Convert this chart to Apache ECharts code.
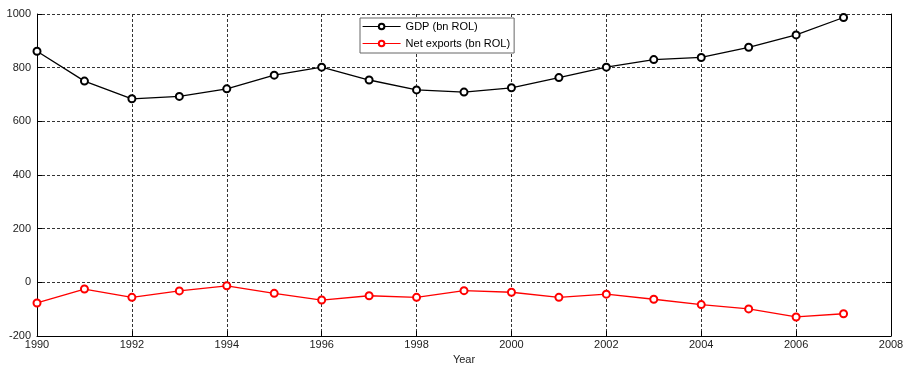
<!DOCTYPE html>
<html>
<head>
<meta charset="utf-8">
<script src="https://cdn.jsdelivr.net/npm/echarts@6/dist/echarts.min.js"></script>
<style>
  html, body { margin: 0; padding: 0; background: #fff; }
  #chart { width: 908px; height: 365px; }
</style>
</head>
<body>
<div id="chart"></div>
<script>
// Annual series, 1990–2007
const years = [1990, 1991, 1992, 1993, 1994, 1995, 1996, 1997, 1998, 1999,
               2000, 2001, 2002, 2003, 2004, 2005, 2006, 2007];
const gdp = [861, 750, 684, 693, 721, 772, 802, 754, 717, 709,
             725, 763, 802, 830, 838, 876, 922, 987];
const netExports = [-77, -25, -56, -32, -13, -41, -66, -50, -56, -31,
                    -37, -56, -44, -63, -83, -99, -129, -117];
const seriesNames = ['GDP (bn ROL)', 'Net exports (bn ROL)'];
const xAxisTitle = 'Year';

const font = 'Arial, "Liberation Sans", Helvetica, sans-serif';
const gridDash = { color: '#333', width: 1, type: [3, 2] };

const chart = echarts.init(document.getElementById('chart'), null, { renderer: 'canvas' });

const pairs = vals => years.map((y, i) => [y, vals[i]]);

chart.setOption({
  animation: false,
  backgroundColor: '#fff',
  grid: { left: 37, right: 17, top: 14, bottom: 29, containLabel: false, outerBoundsMode: 'none' },
  legend: {
    left: 360, top: 18,
    orient: 'vertical',
    backgroundColor: '#fff',
    borderColor: '#666', borderWidth: 1, borderRadius: 0,
    padding: [2, 4, 3, 2],
    itemGap: 4,
    itemWidth: 38, itemHeight: 7,
    lineStyle: { width: 1.2 },
    itemStyle: { borderWidth: 1.3 },
    textStyle: { fontFamily: font, fontSize: 11, color: '#000', lineHeight: 13 },
    data: seriesNames
  },
  xAxis: {
    type: 'value',
    min: 1990, max: 2008, interval: 2,
    name: xAxisTitle, nameLocation: 'middle', nameGap: 17,
    nameTextStyle: { fontFamily: font, fontSize: 11, color: '#222' },
    axisLine: { show: true, onZero: false, lineStyle: { color: '#000', width: 1 } },
    axisTick: { show: true, inside: true, length: 5, lineStyle: { color: '#000' } },
    axisLabel: { fontFamily: font, fontSize: 11, color: '#222', margin: 3,
                 formatter: v => String(v) },
    splitLine: { show: true, lineStyle: gridDash }
  },
  yAxis: [{
    type: 'value',
    min: -200, max: 1000, interval: 200,
    axisLine: { show: true, onZero: false, lineStyle: { color: '#000', width: 1 } },
    axisTick: { show: true, inside: true, length: 5, lineStyle: { color: '#000' } },
    axisLabel: { fontFamily: font, fontSize: 11, color: '#222', margin: 6,
                 formatter: v => String(v) },
    splitLine: { show: true, lineStyle: gridDash }
  }, {
    // right-hand frame edge with matching inward ticks
    type: 'value', position: 'right',
    min: -200, max: 1000, interval: 200,
    axisLine: { show: true, onZero: false, lineStyle: { color: '#000', width: 1 } },
    axisTick: { show: true, inside: true, length: 5, lineStyle: { color: '#000' } },
    axisLabel: { show: false },
    splitLine: { show: false }
  }],
  series: [{
    name: seriesNames[0],
    type: 'line',
    data: pairs(gdp),
    symbol: 'emptyCircle', symbolSize: 7,
    showAllSymbol: true,
    lineStyle: { color: '#000', width: 1.3 },
    itemStyle: { color: '#000', borderWidth: 1.4 },
    z: 3
  }, {
    name: seriesNames[1],
    type: 'line',
    data: pairs(netExports),
    symbol: 'emptyCircle', symbolSize: 7,
    showAllSymbol: true,
    lineStyle: { color: '#f00', width: 1.3 },
    itemStyle: { color: '#f00', borderWidth: 1.4 },
    z: 3
  }]
});
</script>
</body>
</html>
